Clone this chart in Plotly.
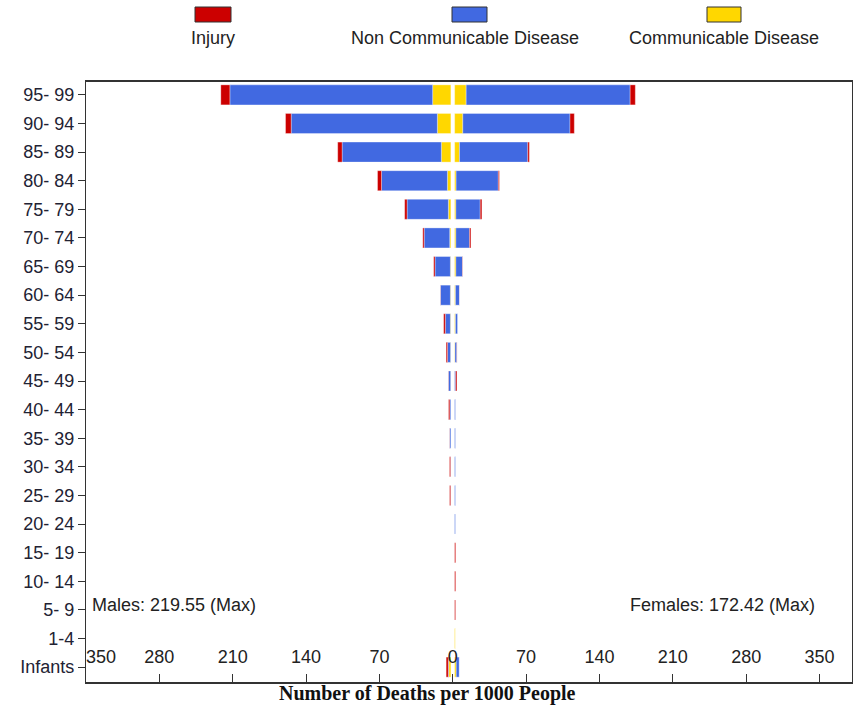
import numpy as np
import plotly.graph_objects as go

ages = ["Infants", "1-4", "5- 9", "10- 14", "15- 19", "20- 24", "25- 29", "30- 34",
        "35- 39", "40- 44", "45- 49", "50- 54", "55- 59", "60- 64", "65- 69",
        "70- 74", "75- 79", "80- 84", "85- 89", "90- 94", "95- 99"]

male_injury = [2.0, 0, 0, 0, 0, 0, 1.0, 1.0, 0.2, 1.2, 0.2, 1.3, 1.6, 0.2, 1.3,
               1.3, 2.3, 3.8, 4.2, 5.4, 8.65]
male_ncd = [0.5, 0, 0, 0, 0, 0, 0.2, 0.3, 1.2, 1.0, 2.2, 2.9, 4.8, 9.5, 14.6,
            24.4, 39.4, 62.9, 94.7, 139.5, 193.5]
male_cd = [2.0, 0, 0, 0, 0, 0, 0, 0, 0, 0, 0.2, 0.3, 0.5, 0.5, 0.5,
           1.1, 2.4, 3.3, 9.1, 12.9, 17.4]

female_injury = [0, 0, 0.9, 1.0, 1.0, 0, 0, 0, 0, 0, 1.2, 0.2, 0, 0.1, 0.3,
                 1.3, 1.6, 1.0, 1.5, 4.1, 4.92]
female_ncd = [3.0, 0, 0, 0, 0, 1.0, 1.0, 1.0, 1.0, 1.0, 1.0, 1.8, 2.2, 3.8, 6.3,
              13.0, 23.2, 40.3, 65.2, 102.3, 156.5]
female_cd = [1.5, 1.0, 0, 0, 0, 0, 0, 0, 0, 0, 0, 0.3, 0.8, 0.8, 1.2,
             1.2, 1.2, 1.4, 4.6, 7.8, 11.0]

tick_vals = [-350, -280, -210, -140, -70, 0, 70, 140, 210, 280, 350]
tick_text = ["\u00a0" * 6 + "350", "280", "210", "140", "70", "0", "70", "140", "210", "280", "350"]

RED, BLUE, YELLOW = "#CC0000", "#4169E1", "#FFD700"
GAP = 1.8
FONT = "Liberation Sans, Arial, sans-serif"
FS = 18

mi, mn, mc = map(np.array, (male_injury, male_ncd, male_cd))
fi, fn, fc = map(np.array, (female_injury, female_ncd, female_cd))

fig = go.Figure()
edge = dict(color="rgba(255,255,255,0.55)", width=0.6)

def add(x, base, color, name):
    fig.add_trace(go.Bar(y=list(range(len(ages))), x=x, base=base, orientation="h",
                         width=0.7, marker=dict(color=color, line=edge),
                         name=name, showlegend=False, hoverinfo="skip"))

# males (left)
add(-mc, -GAP * np.ones(len(ages)), YELLOW, "Communicable Disease")
add(-mn, -GAP - mc, BLUE, "Non Communicable Disease")
add(-mi, -GAP - mc - mn, RED, "Injury")
# females (right)
add(fc, GAP * np.ones(len(ages)), YELLOW, "Communicable Disease")
add(fn, GAP + fc, BLUE, "Non Communicable Disease")
add(fi, GAP + fc + fn, RED, "Injury")

L, R, T, B = 86, 852, 82, 682
W, H = R - L, B - T
px = lambda x: (x - L) / W
py = lambda y: (B - y) / H

shapes = []
annotations = []
legend_items = [("Injury", RED, 195, 231, 213), ("Non Communicable Disease", BLUE, 452, 487, 465),
                ("Communicable Disease", YELLOW, 707, 741, 724)]
for name, col, x0, x1, xc in legend_items:
    shapes.append(dict(type="rect", xref="paper", yref="paper", x0=px(x0), x1=px(x1),
                       y0=py(22), y1=py(7), fillcolor=col, line=dict(color="#333333", width=1)))
    annotations.append(dict(text=name, xref="paper", yref="paper", x=px(xc), y=py(38),
                            showarrow=False, xanchor="center", yanchor="middle",
                            font=dict(family=FONT, size=FS, color="#222222")))

annotations.append(dict(text="Males: 219.55 (Max)", xref="paper", yref="paper", x=px(90), y=py(605),
                        showarrow=False, xanchor="left", yanchor="middle",
                        font=dict(family=FONT, size=FS, color="#222222")))
annotations.append(dict(text="Females: 172.42 (Max)", xref="paper", yref="paper", x=px(817), y=py(605),
                        showarrow=False, xanchor="right", yanchor="middle",
                        font=dict(family=FONT, size=FS, color="#222222")))
annotations.append(dict(text="<b>Number of Deaths per 1000 People</b>", xref="paper", yref="paper",
                        x=px(427.5), y=py(693), showarrow=False, xanchor="center", yanchor="middle",
                        font=dict(family="Liberation Serif, Times New Roman, serif", size=20, color="#111111")))

fig.update_layout(
    width=853, height=705, barmode="overlay",
    margin=dict(l=L, r=853 - R, t=T, b=705 - B, pad=0),
    plot_bgcolor="white", paper_bgcolor="white",
    shapes=shapes, annotations=annotations, showlegend=False,
    xaxis=dict(range=[-350, 381], tickvals=tick_vals, ticktext=tick_text, automargin=False,
               ticks="inside", ticklen=8, tickcolor="#333333", tickwidth=1,
               ticklabelposition="inside", ticklabeloverflow="allow", ticklabelstandoff=8,
               showgrid=False, zeroline=False, showline=True, linecolor="#333333", linewidth=1.5,
               mirror=True, tickfont=dict(family=FONT, size=FS, color="#222222")),
    yaxis=dict(range=[-0.52, 20.45], tickvals=list(range(len(ages))), ticktext=ages, automargin=False,
               ticks="outside", ticklen=7, tickcolor="#333333", showgrid=False, zeroline=False,
               showline=True, linecolor="#333333", linewidth=1.2, mirror=True,
               tickfont=dict(family=FONT, size=FS, color="#222233")),
)

fig.write_html("out.html", config={"displayModeBar": False},
               post_script="document.body.style.margin='0px';document.body.style.padding='0px';")
